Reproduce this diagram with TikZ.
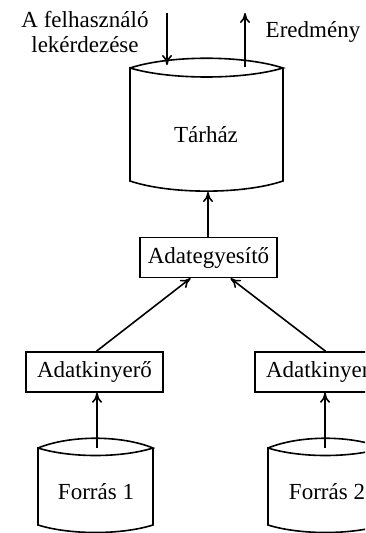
\documentclass[tikz,border=0pt]{standalone}
\usepackage{fontspec}
\setmainfont{Liberation Serif}
\usetikzlibrary{arrows.meta}
\begin{document}
\begin{tikzpicture}[x=0.5pt,y=-0.5pt,
  every node/.style={font=\fontsize{11.5}{12.5}\selectfont},
  line/.style={line width=0.8pt},
  conn/.style={line width=0.8pt,-{To[length=5pt,width=5pt]}},
  procbox/.style={draw,line width=0.8pt,inner sep=0pt,minimum width=68.5pt,minimum height=20pt},
  label/.style={inner sep=0pt,align=center}]
\useasboundingbox (0,0) rectangle (365,533);
\clip (0,0) rectangle (365,533);
% Tárház cylinder
\draw[line] (130,68) .. controls (170,55) and (243,55) .. (283,68)
  .. controls (243,80) and (170,80) .. (130,68) -- (130,181)
  .. controls (170,194.5) and (243,194.5) .. (283,181) -- (283,68);
\node[label] (tar) at (206,135) {Tárház};
\coordinate (tartop-in) at (167,65);
\coordinate (tartop-out) at (245,67);
\coordinate (tarbottom) at (208,192);
% Forrás 1
\draw[line] (38,448) .. controls (70,435) and (121,435) .. (153,448)
  .. controls (121,458) and (70,458) .. (38,448) -- (38,525)
  .. controls (70,535) and (121,535) .. (153,525) -- (153,448);
\node[label] (f1) at (96,492) {Forrás 1};
\coordinate (f1top) at (97,448);
% Forrás 2
\draw[line] (268,448) .. controls (300,435) and (351,435) .. (383,448)
  .. controls (351,458) and (300,458) .. (268,448) -- (268,525)
  .. controls (300,535) and (351,535) .. (383,525) -- (383,448);
\node[label] (f2) at (327,492) {Forrás 2};
\coordinate (f2top) at (325,448);
% boxes
\node[procbox] (ae) at (208.5,257.5) {Adategyesítő};
\node[procbox] (ak1) at (94.5,372) {Adatkinyerő};
\node[procbox] (ak2) at (323.5,372) {Adatkinyerő};
% labels
\node[label] (query) at (85,32) {A felhasználó\\lekérdezése};
\node[label] (result) at (313,32) {Eredmény};
\coordinate (qstart) at (167,13);
\coordinate (rend) at (245,13);
% connectors
\draw[conn] (qstart) -- (tartop-in);
\draw[conn] (tartop-out) -- (rend);
\draw[conn] (ae.north -| tarbottom) -- (tarbottom);
\draw[conn] ([xshift=1pt]ak1.north) -- ([xshift=-9pt]ae.south);
\draw[conn] ([xshift=1pt]ak2.north) -- ([xshift=11pt]ae.south);
\draw[conn] (f1top) -- (f1top |- ak1.south);
\draw[conn] (f2top) -- (f2top |- ak2.south);
\end{tikzpicture}
\end{document}
